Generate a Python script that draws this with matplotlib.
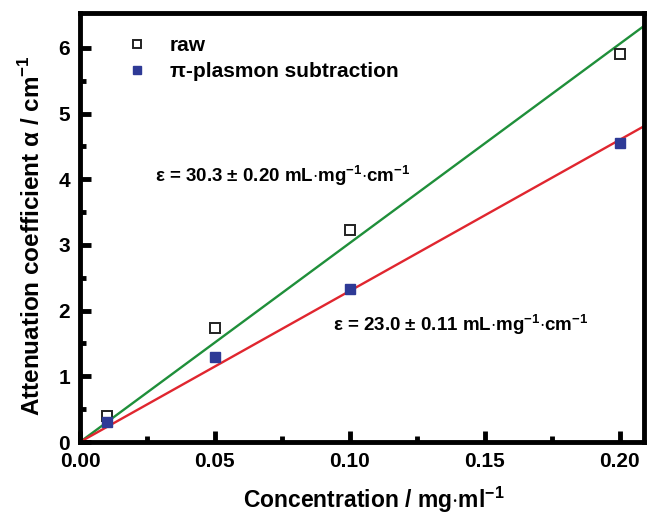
import numpy as np
import matplotlib
matplotlib.use("Agg")
import matplotlib.pyplot as plt

# Data
conc = [0.01, 0.05, 0.10, 0.20]
alpha_raw = [0.40, 1.73, 3.23, 5.90]
alpha_sub = [0.30, 1.30, 2.33, 4.55]
slope_raw = 30.3
slope_sub = 23.0

plt.rcParams['font.family'] = ['Liberation Sans', 'DejaVu Sans']
plt.rcParams['mathtext.fontset'] = 'custom'
plt.rcParams['mathtext.rm'] = 'Liberation Sans:bold'
plt.rcParams['mathtext.bf'] = 'Liberation Sans:bold'

fig = plt.figure(figsize=(6.47, 5.15), dpi=100)
ax = fig.add_axes([0.1236, 0.1417, 0.8717, 0.833])

# linear fits through the origin
xfit = np.array([0.0, 0.21])
ax.plot(xfit, slope_raw * xfit, color='#1f8f3a', lw=1.7, zorder=2)
ax.plot(xfit, slope_sub * xfit, color='#e0262f', lw=1.7, zorder=2)

ax.plot(conc, alpha_raw, ls='none', marker='s', ms=7, mfc='white',
        mec='#222222', mew=1.4, label='raw', zorder=3)
ax.plot(conc, alpha_sub, ls='none', marker='s', ms=7, mfc='#2e3a96',
        mec='#2e3a96', label='\u03c0-plasmon subtraction', zorder=3)

ax.set_xlim(0, 0.209)
ax.set_ylim(0, 6.53)
ax.set_xticks([0.0, 0.05, 0.10, 0.15, 0.20])
ax.set_xticks([0.025, 0.075, 0.125, 0.175], minor=True)
ax.set_yticks(range(0, 7))
ax.set_yticks(np.arange(0.5, 6.5, 1.0), minor=True)
ax.set_xticklabels(['0.00', '0.05', '0.10', '0.15', '0.20'])

ax.tick_params(which='major', direction='in', length=8, width=3.5,
               labelsize=15, pad=7)
ax.tick_params(which='minor', direction='in', length=4, width=3.5)
for lbl in ax.get_xticklabels() + ax.get_yticklabels():
    lbl.set_fontweight('bold')
for sp in ax.spines.values():
    sp.set_linewidth(3.5)

ax.set_xlabel('Concentration / mg$\\cdot$ml$^{-1}$', fontsize=16.5,
              fontweight='bold')
ax.xaxis.set_label_coords(0.521, -0.135)
ax.xaxis.label.set_va('center')
ax.set_ylabel('Attenuation coefficient \u03b1 / cm$^{-1}$', fontsize=17.5,
              fontweight='bold')
ax.yaxis.set_label_coords(-0.085, 0.48)
ax.yaxis.label.set_va('center')

ax.text(0.0278, 4.06, '\u03b5 = 30.3 \u00b1 0.20 mL$\\cdot$mg$^{-1}$$\\cdot$cm$^{-1}$',
        fontsize=13.5, fontweight='bold', va='center')
ax.text(0.0937, 1.78, '\u03b5 = 23.0 \u00b1 0.11 mL$\\cdot$mg$^{-1}$$\\cdot$cm$^{-1}$',
        fontsize=13.5, fontweight='bold', va='center')

ax.legend(loc='upper left', bbox_to_anchor=(0.049, 0.966), frameon=False,
          prop={'weight': 'bold', 'size': 15}, handletextpad=0.6,
          borderaxespad=0, labelspacing=0.35, markerscale=0.75)

fig.savefig('out.png', dpi=100)
